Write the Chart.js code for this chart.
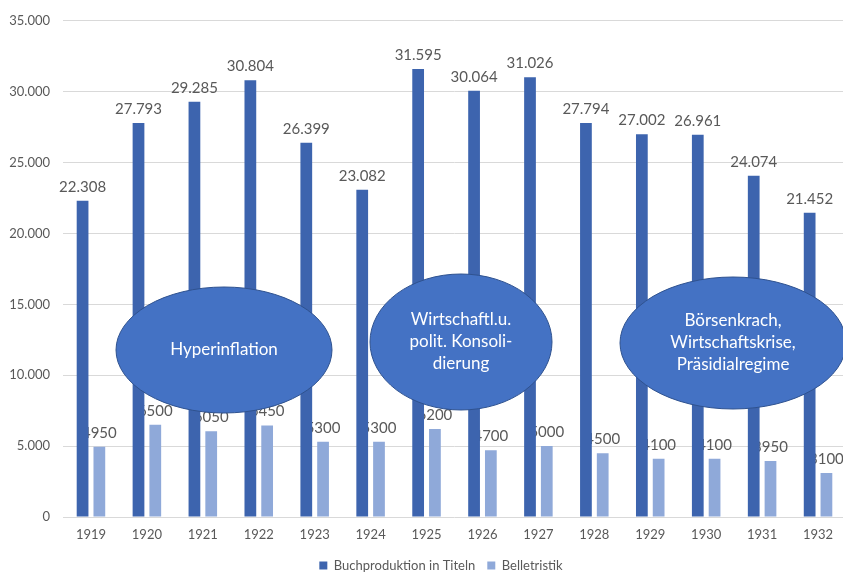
<!DOCTYPE html>
<html>
<head>
<meta charset="utf-8">
<script src="https://cdn.jsdelivr.net/npm/chart.js@4/dist/chart.umd.min.js"></script>
<style>
  html, body { margin: 0; padding: 0; background: #fff; overflow: hidden; }
  #wrap { position: relative; width: 850px; height: 572px; }
</style>
</head>
<body>
<div id="wrap"><canvas id="chart"></canvas></div>
<script>
// Data
const years = ['1919', '1920', '1921', '1922', '1923', '1924', '1925', '1926', '1927', '1928', '1929', '1930', '1931', '1932'];
const buchproduktion = [22308, 27793, 29285, 30804, 26399, 23082, 31595, 30064, 31026, 27794, 27002, 26961, 24074, 21452];
const belletristik = [4950, 6500, 6050, 6450, 5300, 5300, 6200, 4700, 5000, 4500, 4100, 4100, 3950, 3100];

// Annotation ellipses (periods)
const periods = [
    { lines: ['Hyperinflation'], cx: 224, cy: 350, rx: 108, ry: 63 },
    { lines: ['Wirtschaftl.u.', 'polit. Konsoli-', 'dierung'], cx: 461, cy: 342, rx: 91, ry: 68 },
    { lines: ['Börsenkrach,', 'Wirtschaftskrise,', 'Präsidialregime'], cx: 733, cy: 343, rx: 113, ry: 66 }
];

const FONT = 'Lato, "Open Sans", sans-serif';
const GRAY = '#595959';

function dotted(v) {
    return String(v).replace(/\B(?=(\d{3})+(?!\d))/g, '.');
}

// Value labels above bars (drawn under the bars, so neighbours may cover them)
const valueLabels = {
    id: 'valueLabels',
    beforeDatasetsDraw(chart) {
        const ctx = chart.ctx;
        ctx.save();
        ctx.font = '15px ' + FONT;
        ctx.fillStyle = GRAY;
        ctx.textAlign = 'center';
        ctx.textBaseline = 'middle';
        chart.data.datasets.forEach((ds, i) => {
            chart.getDatasetMeta(i).data.forEach((bar, j) => {
                const v = ds.data[j];
                const txt = i === 0 ? dotted(v) : String(v);
                ctx.fillText(txt, bar.x, bar.y - 14);
            });
        });
        ctx.restore();
    }
};

// Ellipses with text on top
const ellipses = {
    id: 'ellipses',
    afterDraw(chart) {
        const ctx = chart.ctx;
        ctx.save();
        periods.forEach(p => {
            ctx.beginPath();
            ctx.ellipse(p.cx, p.cy, p.rx, p.ry, 0, 0, Math.PI * 2);
            ctx.fillStyle = '#4472C4';
            ctx.fill();
            ctx.lineWidth = 1;
            ctx.strokeStyle = '#2F528F';
            ctx.stroke();
            ctx.fillStyle = '#ffffff';
            ctx.font = '17px ' + FONT;
            ctx.textAlign = 'center';
            ctx.textBaseline = 'middle';
            const lh = 22;
            const top = p.cy - (p.lines.length - 1) * lh / 2;
            p.lines.forEach((line, k) => ctx.fillText(line, p.cx, top + k * lh));
        });
        ctx.restore();
    }
};

// move the legend a bit to the right, like the original
const legendShift = {
    id: 'legendShift',
    afterLayout(chart) {
        const lg = chart.legend;
        if (lg) {
            lg.left += 18;
            lg.right += 18;
        }
    }
};

const ctx = document.getElementById('chart').getContext('2d');
new Chart(ctx, {
    type: 'bar',
    data: {
        labels: years,
        datasets: [
            { label: 'Buchproduktion in Titeln', data: buchproduktion, backgroundColor: '#3D64AE' },
            { label: 'Belletristik', data: belletristik, backgroundColor: '#8FA9D9' }
        ]
    },
    options: {
        responsive: true,
        maintainAspectRatio: false,
        animation: false,
        categoryPercentage: 0.6,
        barPercentage: 0.7,
        layout: { padding: { top: 13, left: 0, right: 4, bottom: -10 } },
        scales: {
            x: {
                afterFit(scale) { scale.height = 30; },
                grid: { display: false },
                border: { display: false },
                ticks: { color: GRAY, font: { size: 13, family: FONT }, padding: 2 }
            },
            y: {
                min: 0,
                max: 35000,
                afterFit(scale) { scale.width = 63; },
                grid: { color: '#D9D9D9', drawTicks: false },
                border: { display: false },
                ticks: {
                    stepSize: 5000,
                    color: GRAY,
                    font: { size: 13, family: FONT },
                    padding: 13,
                    callback: v => dotted(v)
                }
            }
        },
        plugins: {
            legend: {
                position: 'bottom',
                labels: {
                    color: GRAY,
                    font: { size: 13, family: FONT },
                    boxWidth: 8,
                    boxHeight: 8,
                    padding: 12
                }
            },
            tooltip: { enabled: false }
        }
    },
    plugins: [valueLabels, ellipses, legendShift]
});
</script>
</body>
</html>
